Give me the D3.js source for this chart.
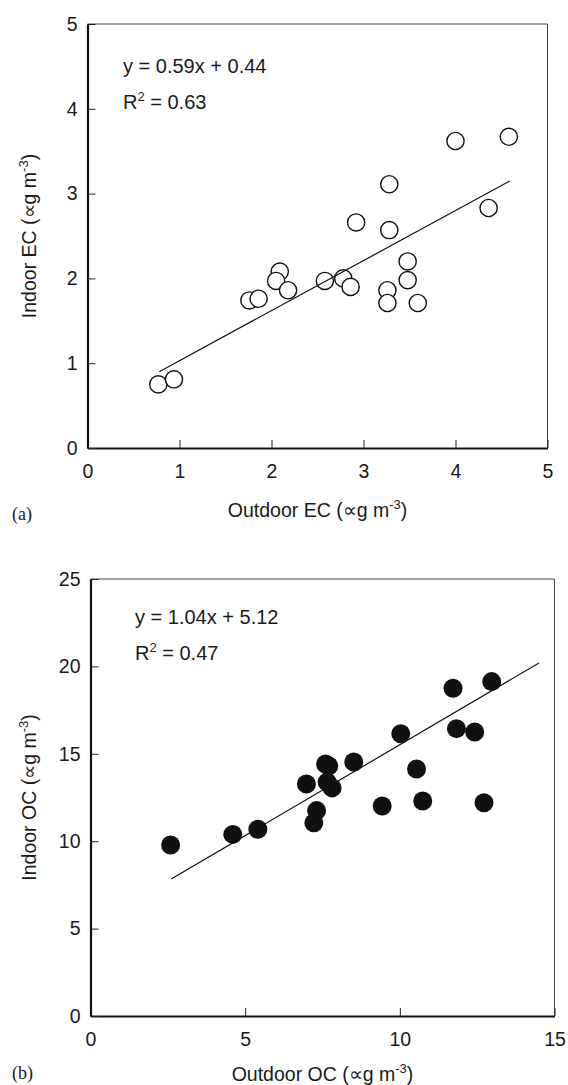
<!DOCTYPE html>
<html>
<head>
<meta charset="utf-8">
<script src="https://cdn.jsdelivr.net/npm/d3@7"></script>
<style>
  body { margin: 0; background: #fff; }
  text { font-family: "Liberation Sans", Arial, sans-serif; fill: #1a1a1a; }
  .panel_tag { font-family: "Liberation Serif", "Times New Roman", serif; }
</style>
</head>
<body>
<svg id="chart" width="568" height="1085"></svg>
<script>
// Panel (a) - elemental carbon, outdoor vs indoor
let ec_outdoor = [4.00, 4.58, 3.28, 4.36, 2.92, 3.28, 3.48, 3.48, 2.09, 2.05, 2.18, 2.58, 2.78, 2.86, 3.26, 3.26, 3.59, 1.76, 1.86, 0.77, 0.94];
let ec_indoor  = [3.62, 3.67, 3.11, 2.83, 2.66, 2.57, 2.20, 1.98, 2.08, 1.97, 1.86, 1.97, 2.00, 1.90, 1.86, 1.71, 1.71, 1.74, 1.76, 0.75, 0.81];
let ec_x_ticks = [0, 1, 2, 3, 4, 5];
let ec_y_ticks = [0, 1, 2, 3, 4, 5];
let ec_fit = [0.59, 0.44];      // slope, intercept
let ec_r2 = 0.63;
let ec_line_x = [0.78, 4.59];   // extent of the fitted line

// Panel (b) - organic carbon
let oc_outdoor = [11.72, 12.97, 10.03, 11.83, 12.42, 10.54, 8.51, 7.60, 7.70, 6.98, 7.65, 7.81, 9.43, 10.74, 12.72, 7.31, 7.22, 4.60, 5.41, 2.59];
let oc_indoor  = [18.75, 19.13, 16.15, 16.44, 16.25, 14.13, 14.53, 14.42, 14.30, 13.27, 13.38, 13.05, 12.01, 12.30, 12.20, 11.75, 11.05, 10.39, 10.68, 9.78];
let oc_x_ticks = [0, 5, 10, 15];
let oc_y_ticks = [0, 5, 10, 15, 20, 25];
let oc_fit = [1.04, 5.12];
let oc_r2 = 0.47;
let oc_line_x = [2.61, 14.5];

let svg = d3.select('#chart');

// Draws one scatter panel with its fitted line and equation
function draw_panel(p) {

    let xScale = d3.scaleLinear()
        .domain(d3.extent(p.x_ticks))
        .range([p.left, p.right]);

    let yScale = d3.scaleLinear()
        .domain(d3.extent(p.y_ticks))
        .range([p.bottom, p.top]);

    let g = svg.append('g');

    // thin frame on top and right
    g.append('path')
        .attr('d', `M${p.left},${p.top}H${p.right}V${p.bottom}`)
        .attr('fill', 'none')
        .attr('stroke', '#444')
        .attr('stroke-width', 1);

    // x axis, ticks pointing inward
    let xa = g.append('g')
        .attr('transform', `translate(0,${p.bottom})`)
        .call(d3.axisBottom(xScale)
            .tickValues(p.x_ticks)
            .tickFormat(d3.format('d'))
            .tickSizeInner(-8)
            .tickSizeOuter(0)
            .tickPadding(16));

    let ya = g.append('g')
        .attr('transform', `translate(${p.left},0)`)
        .call(d3.axisLeft(yScale)
            .tickValues(p.y_ticks)
            .tickFormat(d3.format('d'))
            .tickSizeInner(-8)
            .tickSizeOuter(0)
            .tickPadding(10));

    [xa, ya].forEach(a => {
        a.attr('font-size', null).attr('font-family', null);
        a.select('.domain').attr('stroke', '#111').attr('stroke-width', 2.2);
        a.selectAll('.tick line').attr('stroke', '#222').attr('stroke-width', 1);
        a.selectAll('.tick text').style('font-size', '19.5px').attr('fill', '#1a1a1a');
    });

    // points
    g.append('g')
        .selectAll('circle')
        .data(d3.zip(p.xs, p.ys))
        .join('circle')
        .attr('cx', d => xScale(d[0]))
        .attr('cy', d => yScale(d[1]))
        .attr('r', p.filled ? 9.5 : 8.6)
        .attr('fill', p.filled ? '#111' : '#fff')
        .attr('stroke', '#111')
        .attr('stroke-width', p.filled ? 0 : 1.4);

    // regression line drawn on top of the markers
    g.append('line')
        .attr('x1', xScale(p.line_x[0]))
        .attr('y1', yScale(p.fit[0] * p.line_x[0] + p.fit[1]))
        .attr('x2', xScale(p.line_x[1]))
        .attr('y2', yScale(p.fit[0] * p.line_x[1] + p.fit[1]))
        .attr('stroke', '#111')
        .attr('stroke-width', 1.2);

    // equation and R2
    g.append('text')
        .attr('x', p.eq_x)
        .attr('y', p.eq_y)
        .style('font-size', '20px')
        .text(`y = ${p.fit[0].toFixed(2)}x + ${p.fit[1].toFixed(2)}`);

    let r2 = g.append('text')
        .attr('x', p.eq_x)
        .attr('y', p.eq_y + 36)
        .style('font-size', '20px');
    r2.append('tspan').text('R');
    r2.append('tspan').attr('dy', -8).style('font-size', '13px').text('2');
    r2.append('tspan').attr('dy', 8).text(` = ${p.r2.toFixed(2)}`);

    // axis titles
    let xt = g.append('text')
        .attr('x', (p.left + p.right) / 2)
        .attr('y', p.xtitle_y)
        .attr('text-anchor', 'middle')
        .style('font-size', '19.5px');
    xt.append('tspan').text(`Outdoor ${p.name} (\u221Dg m`);
    xt.append('tspan').attr('dy', -8).style('font-size', '13px').text('-3');
    xt.append('tspan').attr('dy', 8).text(')');

    let yt = g.append('text')
        .attr('transform', `translate(${p.ytitle_x},${(p.top + p.bottom) / 2}) rotate(-90)`)
        .attr('text-anchor', 'middle')
        .style('font-size', '19.5px');
    yt.append('tspan').text(`Indoor ${p.name} (\u221Dg m`);
    yt.append('tspan').attr('dy', -8).style('font-size', '13px').text('-3');
    yt.append('tspan').attr('dy', 8).text(')');

    // panel tag
    g.append('text')
        .attr('class', 'panel_tag')
        .attr('x', 12)
        .attr('y', p.tag_y)
        .style('font-size', '18px')
        .text(p.tag);
}

draw_panel({
    name: 'EC', tag: '(a)', filled: false,
    xs: ec_outdoor, ys: ec_indoor, x_ticks: ec_x_ticks, y_ticks: ec_y_ticks,
    fit: ec_fit, r2: ec_r2, line_x: ec_line_x,
    left: 87.5, right: 547.5, top: 24, bottom: 448,
    eq_x: 123, eq_y: 73, xtitle_y: 517, ytitle_x: 36, tag_y: 520
});

draw_panel({
    name: 'OC', tag: '(b)', filled: true,
    xs: oc_outdoor, ys: oc_indoor, x_ticks: oc_x_ticks, y_ticks: oc_y_ticks,
    fit: oc_fit, r2: oc_r2, line_x: oc_line_x,
    left: 90.5, right: 554.5, top: 579, bottom: 1016,
    eq_x: 135, eq_y: 624, xtitle_y: 1081, ytitle_x: 36, tag_y: 1079
});
</script>
</body>
</html>
